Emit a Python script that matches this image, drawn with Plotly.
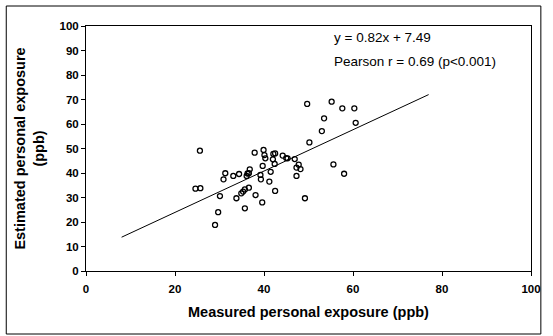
import plotly.graph_objects as go

measured = [24.6, 25.7, 25.6, 29.0, 29.7, 30.1, 30.9, 31.3, 33.1, 33.8, 34.4, 34.9, 35.3, 35.7, 35.7,
            36.1, 36.6, 36.6, 36.8, 37.9, 38.1, 39.2, 39.3, 39.6, 39.7, 39.9, 40.1, 40.3, 41.2, 41.5,
            42.0, 42.1, 42.4, 42.5, 42.5, 44.2, 45.3, 46.9, 47.3, 47.3, 47.8, 48.2, 49.2, 49.7, 50.2,
            53.0, 53.5, 55.2, 55.6, 57.6, 58.0, 60.3, 60.6, 36.3, 45.0]
estimated = [33.6, 33.8, 49.1, 18.8, 24.0, 30.6, 37.4, 39.9, 38.8, 29.7, 39.6, 31.7, 32.4, 33.3, 25.6,
             38.8, 39.9, 34.0, 41.5, 48.3, 31.0, 39.2, 37.4, 28.0, 42.9, 49.4, 47.3, 46.0, 36.5, 40.5,
             45.6, 47.8, 43.7, 48.0, 32.7, 47.1, 46.0, 45.7, 42.2, 38.8, 43.4, 41.6, 29.7, 68.2, 52.5,
             57.1, 62.3, 69.1, 43.5, 66.4, 39.7, 66.4, 60.5, 39.8, 46.1]

# trend line end points
fit_x = [8, 77]
fit_y = [13.8, 72.0]

x_ticks = [0, 20, 40, 60, 80, 100]
y_ticks = [0, 10, 20, 30, 40, 50, 60, 70, 80, 90, 100]

equation_text = "y = 0.82x + 7.49"
pearson_text = "Pearson r = 0.69 (p<0.001)"

FONT = "Liberation Sans, Arial, sans-serif"

fig = go.Figure()
fig.add_trace(go.Scatter(x=fit_x, y=fit_y, mode="lines",
                         line=dict(color="black", width=1), showlegend=False))
fig.add_trace(go.Scatter(x=measured, y=estimated, mode="markers",
                         marker=dict(symbol="circle-open", size=5, color="black",
                                     line=dict(color="black", width=1.3)),
                         showlegend=False))

W, H = 553, 336
L, R, T, B = 86, 15, 26, 65
pw, ph = W - L - R, H - T - B

def px(x):
    return (x - L) / pw

def py(y):
    return (H - B - y) / ph

fig.add_shape(type="rect", xref="paper", yref="paper",
              x0=px(5), x1=px(548), y0=py(334), y1=py(6),
              line=dict(color="black", width=1))

fig.add_annotation(xref="paper", yref="paper", x=px(336), y=py(37),
                   text=equation_text, showarrow=False, xanchor="left", yanchor="middle",
                   font=dict(family=FONT, size=13.5, color="black"))
fig.add_annotation(xref="paper", yref="paper", x=px(336), y=py(61),
                   text=pearson_text, showarrow=False, xanchor="left", yanchor="middle",
                   font=dict(family=FONT, size=13.5, color="black"))

fig.update_layout(
    width=W, height=H,
    margin=dict(l=L, r=R, t=T, b=B),
    paper_bgcolor="white", plot_bgcolor="white",
    font=dict(family=FONT, color="black"),
    xaxis=dict(range=[0, 100], tickvals=x_ticks, showgrid=False, zeroline=False,
               showline=True, linecolor="black", linewidth=1, mirror=True,
               ticks="outside", ticklen=4, tickcolor="black", ticklabelstandoff=3,
               tickfont=dict(family=FONT, size=11.5, color="black", weight="bold"),
               title=dict(text="<b>Measured personal exposure (ppb)</b>", standoff=13,
                          font=dict(family=FONT, size=14.5, color="black"))),
    yaxis=dict(range=[0, 100], tickvals=y_ticks, showgrid=False, zeroline=False,
               showline=True, linecolor="black", linewidth=1, mirror=True,
               ticks="outside", ticklen=4, tickcolor="black",
               tickfont=dict(family=FONT, size=11.5, color="black", weight="bold"),
               title=dict(text="<b>Estimated personal exposure<br>(ppb)</b>", standoff=11,
                          font=dict(family=FONT, size=14.5, color="black"))),
)

fig.write_html("out.html")
